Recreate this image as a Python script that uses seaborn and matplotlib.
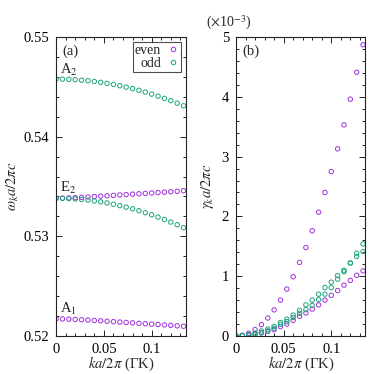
import numpy as np
import pandas as pd
import matplotlib.pyplot as plt
import seaborn as sns
from matplotlib.lines import Line2D
from matplotlib.ticker import MultipleLocator

# k a / 2pi along Gamma-K
k = [0.0, 0.00667, 0.01333, 0.02, 0.02667, 0.03333, 0.04, 0.04667, 0.05333, 0.06,
     0.06667, 0.07333, 0.08, 0.08667, 0.09333, 0.1, 0.10667, 0.11333, 0.12, 0.12667, 0.13333]

# frequencies (a)
w_A2_odd = [0.54578, 0.54577, 0.54575, 0.54572, 0.54567, 0.54561, 0.54554, 0.54545, 0.54535, 0.54524,
            0.54511, 0.54497, 0.54482, 0.54465, 0.54447, 0.54427, 0.54406, 0.54384, 0.54361, 0.54336, 0.5431]
w_E2_even = [0.53382, 0.53383, 0.53385, 0.53388, 0.53391, 0.53395, 0.53399, 0.53403, 0.53407, 0.53411,
             0.53415, 0.53419, 0.53423, 0.53427, 0.53431, 0.53435, 0.53439, 0.53443, 0.53447, 0.53452, 0.53458]
w_E2_odd = [0.53382, 0.53381, 0.53379, 0.53375, 0.5337, 0.53364, 0.53355, 0.53346, 0.53335, 0.53322,
            0.53308, 0.53293, 0.53276, 0.53257, 0.53237, 0.53216, 0.53193, 0.53169, 0.53143, 0.53116, 0.53087]
w_A1_even = [0.52172, 0.52171, 0.52169, 0.52166, 0.52163, 0.5216, 0.52156, 0.52152, 0.52148, 0.52144,
             0.5214, 0.52136, 0.52132, 0.52127, 0.52123, 0.52119, 0.52115, 0.52111, 0.52107, 0.52102, 0.52098]

# losses (b), in units of 1e-3
g_E2_even = [0, 0.012, 0.045, 0.107, 0.19, 0.30, 0.437, 0.60, 0.785, 0.99,
             1.23, 1.48, 1.76, 2.07, 2.40, 2.75, 3.13, 3.53, 3.96, 4.41, 4.87]
g_A1_even = [0, 0.005, 0.015, 0.03, 0.05, 0.075, 0.105, 0.155, 0.20, 0.26,
             0.33, 0.385, 0.45, 0.52, 0.60, 0.68, 0.76, 0.85, 0.93, 1.015, 1.09]
g_A2_odd = [0, 0.006, 0.022, 0.05, 0.085, 0.115, 0.16, 0.225, 0.28, 0.35,
            0.43, 0.52, 0.60, 0.70, 0.81, 0.90, 1.01, 1.10, 1.22, 1.33, 1.41]
g_E2_odd = [0, 0.004, 0.017, 0.035, 0.057, 0.085, 0.13, 0.195, 0.24, 0.31,
            0.38, 0.44, 0.51, 0.61, 0.70, 0.81, 0.95, 1.075, 1.22, 1.385, 1.54]

purple = '#a030dd'
green = '#1aa57c'

sns.set_theme(style='ticks')
plt.rcParams['font.family'] = ['Liberation Serif', 'DejaVu Serif']
plt.rcParams['mathtext.fontset'] = 'stix'
plt.rcParams['font.size'] = 10


def dots(ax, y, c):
    sns.scatterplot(x=k, y=y, ax=ax, marker='o', s=10, color=c)
    pts = ax.collections[-1]
    pts.set_facecolors('none')
    pts.set_edgecolors(c)
    pts.set_linewidths(0.7)


def style(ax):
    ax.set_xlim(0, 0.1358)
    ax.set_xticks([0, 0.05, 0.1], ['0', '0.05', '0.1'])
    ax.xaxis.set_minor_locator(MultipleLocator(0.01))
    ax.tick_params(which='both', direction='in', top=True, right=True,
                   labelsize=10.5, width=0.7, colors='#222222', labelcolor='black')
    ax.tick_params(which='major', length=4, pad=5)
    ax.tick_params(which='minor', length=2.2)
    for s in ax.spines.values():
        s.set_linewidth(0.8)
        s.set_color('#222222')
    ax.set_xlabel(r'$ka/2\pi$ (ΓK)', fontsize=10.5, labelpad=-1)


fig = plt.figure(figsize=(3.74, 3.74), dpi=100)
ax1 = fig.add_axes([0.150, 0.1016, 0.347, 0.7995])
ax2 = fig.add_axes([0.631, 0.1016, 0.346, 0.7995])

for y, c in [(w_A2_odd, green), (w_E2_even, purple), (w_E2_odd, green), (w_A1_even, purple)]:
    dots(ax1, y, c)
for y, c in [(g_E2_even, purple), (g_A1_even, purple), (g_A2_odd, green), (g_E2_odd, green)]:
    dots(ax2, y, c)

style(ax1)
style(ax2)

ax1.set_ylim(0.52, 0.55)
ax1.set_yticks([0.52, 0.53, 0.54, 0.55], ['0.52', '0.53', '0.54', '0.55'])
ax1.yaxis.set_minor_locator(MultipleLocator(0.002))
ax1.set_ylabel(r'$\omega_k a/2\pi c$', fontsize=10.5, labelpad=2)

ax2.set_ylim(0, 5)
ax2.yaxis.set_major_locator(MultipleLocator(1))
ax2.yaxis.set_minor_locator(MultipleLocator(0.2))
ax2.set_ylabel(r'$\gamma_k a/2\pi c$', fontsize=10.5, labelpad=4)

ax1.text(0.05, 0.975, '(a)', transform=ax1.transAxes, va='top', ha='left', fontsize=10.5)
ax2.text(0.05, 0.975, '(b)', transform=ax2.transAxes, va='top', ha='left', fontsize=10.5)
ax2.text(-0.23, 1.034, r'($\times$10$^{-3}$)', transform=ax2.transAxes, va='baseline', ha='left', fontsize=10)

ax1.text(0.0045, 0.5463, r'A$_2$', fontsize=10.5, va='baseline')
ax1.text(0.0045, 0.5345, r'E$_2$', fontsize=10.5, va='baseline')
ax1.text(0.0045, 0.5223, r'A$_1$', fontsize=10.5, va='baseline')

handles = [Line2D([], [], ls='none', marker='o', ms=3.2, mfc='none', mec=purple, mew=0.7),
           Line2D([], [], ls='none', marker='o', ms=3.2, mfc='none', mec=green, mew=0.7)]
leg = ax1.legend(handles, ['even', 'odd'], loc='upper right', markerfirst=False, numpoints=1,
                 fontsize=10, frameon=True, fancybox=False, handlelength=0.8, handletextpad=0.5,
                 labelspacing=0.0, borderpad=0.15, borderaxespad=0.35)
leg.get_frame().set_edgecolor('#222222')
leg.get_frame().set_linewidth(0.8)

fig.savefig('out.png', dpi=100)
